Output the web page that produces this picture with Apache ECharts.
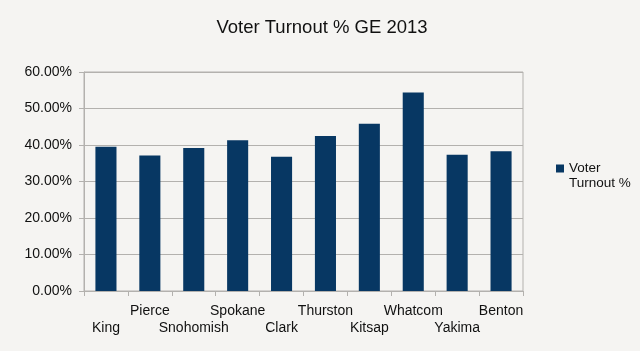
<!DOCTYPE html>
<html>
<head>
<meta charset="utf-8">
<script src="https://cdn.jsdelivr.net/npm/echarts@6/dist/echarts.min.js"></script>
<style>
html,body{margin:0;padding:0;background:#f5f4f2;}
#c{width:640px;height:351px;}
</style>
</head>
<body>
<div id="c"></div>
<script>
const categories = ['King','Pierce','Snohomish','Spokane','Clark','Thurston','Kitsap','Whatcom','Yakima','Benton'];
const turnout = [39.5, 37.1, 39.2, 41.3, 36.8, 42.5, 45.8, 54.4, 37.3, 38.3];
const seriesName = 'Voter Turnout %';
const titleText = 'Voter Turnout % GE 2013';

const chart = echarts.init(document.getElementById('c'));
const grey = '#b3b1ae';
chart.setOption({
  backgroundColor: '#f5f4f2',
  animation: false,
  title: {
    text: titleText, left: 317, top: 13, textAlign: 'center',
    textStyle: {fontFamily: 'Liberation Sans', fontSize: 18.5, fontWeight: 'normal', color: '#111'}
  },
  legend: {
    data: [seriesName],
    left: 556, top: 146, orient: 'vertical', padding: 0,
    itemWidth: 8, itemHeight: 8, itemGap: 4,
    icon: 'rect',
    formatter: () => '\nVoter\nTurnout %',
    textStyle: {fontFamily: 'Liberation Sans', fontSize: 13.5, color: '#111', lineHeight: 15}
  },
  grid: {left: 84, right: 117, top: 72, bottom: 60, show: true, borderColor: grey, borderWidth: 1, backgroundColor: 'transparent'},
  xAxis: {
    type: 'category', data: categories,
    axisLine: {lineStyle: {color: grey}},
    axisTick: {show: true, length: 5, lineStyle: {color: grey}},
    axisLabel: {
      interval: 0, margin: 12, color: '#111', fontFamily: 'Liberation Sans', fontSize: 14, lineHeight: 17,
      formatter: (v, i) => (i % 2 === 0 ? '\n' + v : v)
    }
  },
  yAxis: {
    type: 'value', min: 0, max: 60, interval: 10,
    axisLine: {show: true, lineStyle: {color: grey}},
    axisTick: {show: true, length: 5, lineStyle: {color: grey}},
    splitLine: {lineStyle: {color: grey}},
    axisLabel: {margin: 12, color: '#111', fontFamily: 'Liberation Sans', fontSize: 14, formatter: v => v.toFixed(2) + '%'}
  },
  series: [{
    name: seriesName, type: 'bar', data: turnout, barWidth: '48%',
    itemStyle: {color: '#073763'}
  }]
});
</script>
</body>
</html>
